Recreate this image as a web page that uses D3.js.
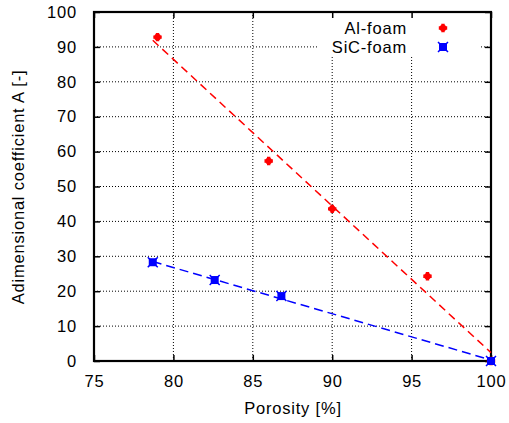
<!DOCTYPE html>
<html><head><meta charset="utf-8">
<script src="https://cdn.jsdelivr.net/npm/d3@7"></script>
<style>body{margin:0;background:#fff}svg{display:block}text{font-family:"Liberation Sans",Arial,sans-serif;fill:#000;letter-spacing:0.8px}</style>
</head><body>
<svg id="c" width="509" height="423"></svg>
<script>
const xTicks = [75, 80, 85, 90, 95, 100];
const yTicks = [0, 10, 20, 30, 40, 50, 60, 70, 80, 90, 100];
const alX = [79.0, 86.0, 90.0, 96.0, 100.0];
const alY = [92.8, 57.3, 43.6, 24.3, 0.0];
const sicX = [78.7, 82.6, 86.8, 100.0];
const sicY = [28.3, 23.2, 18.6, 0.0];
const alFitX = [78.7, 100.0];
const alFitY = [91.9, 2.4];
const sicFitX = [78.7, 100.0];
const sicFitY = [28.5, 0.3];
const seriesNames = ["Al-foam", "SiC-foam"];

const svg = d3.select("#c");
const L = 94, R = 491, T = 12, B = 361;
const x = d3.scaleLinear().domain([75, 100]).range([L, R]);
const y = d3.scaleLinear().domain([0, 100]).range([B, T]);
const fs = 16.5;
const ff = "Liberation Sans, Arial, sans-serif";

// grid
const g = svg.append("g");
g.selectAll(".gx").data(xTicks.slice(1, -1)).join("line")
  .attr("x1", d => x(d)).attr("x2", d => x(d)).attr("y1", T).attr("y2", B)
  .attr("stroke", "#000").attr("stroke-width", 1).attr("stroke-dasharray", "1,2");
g.selectAll(".gy").data(yTicks.slice(1, -1)).join("line")
  .attr("x1", L).attr("x2", R).attr("y1", d => y(d)).attr("y2", d => y(d))
  .attr("stroke", "#000").attr("stroke-width", 1).attr("stroke-dasharray", "1,2");

// legend background
svg.append("rect").attr("x", 318).attr("y", T).attr("width", 162).attr("height", 43).attr("fill", "#fff");

// axes with d3 (ticks inward)
const ax = svg.append("g");
ax.append("g").attr("transform", `translate(0,${B})`)
  .call(d3.axisBottom(x).tickValues(xTicks).tickSize(-6).tickPadding(14).tickFormat(d3.format("d")))
  .call(s => { s.select(".domain").remove(); s.selectAll("text").attr("font-size", fs).attr("font-family", ff); });
ax.append("g").attr("transform", `translate(0,${T})`)
  .call(d3.axisTop(x).tickValues(xTicks).tickSize(-6).tickFormat(""))
  .call(s => s.select(".domain").remove());
ax.append("g").attr("transform", `translate(${L},0)`)
  .call(d3.axisLeft(y).tickValues(yTicks).tickSize(-6).tickPadding(17).tickFormat(d3.format("d")))
  .call(s => { s.select(".domain").remove(); s.selectAll("text").attr("font-size", fs).attr("font-family", ff); });
ax.append("g").attr("transform", `translate(${R},0)`)
  .call(d3.axisRight(y).tickValues(yTicks).tickSize(-6).tickFormat(""))
  .call(s => s.select(".domain").remove());
ax.selectAll(".tick line").attr("stroke", "#000").attr("stroke-width", 1.5);

// border
svg.append("rect").attr("x", L).attr("y", T).attr("width", R - L).attr("height", B - T)
  .attr("fill", "none").attr("stroke", "#000").attr("stroke-width", 2.2);

// fit lines
const line = d3.line().x(d => x(d[0])).y(d => y(d[1]));
svg.append("path").datum(d3.zip(alFitX, alFitY)).attr("d", line)
  .attr("fill", "none").attr("stroke", "#f00").attr("stroke-width", 1.5).attr("stroke-dasharray", "8,5");
svg.append("path").datum(d3.zip(sicFitX, sicFitY)).attr("d", line)
  .attr("fill", "none").attr("stroke", "#00f").attr("stroke-width", 1.5).attr("stroke-dasharray", "9,5");

// markers
function redMark(sel) {
  sel.append("path").attr("d", "M-1.7,-4.2h3.4v2.5h2.5v3.4h-2.5v2.5h-3.4v-2.5h-2.5v-3.4h2.5z").attr("fill", "#f00");
  sel.append("circle").attr("r", 3.3).attr("fill", "#f00");
}
function blueMark(sel) {
  sel.append("rect").attr("x", -4).attr("y", -4).attr("width", 8).attr("height", 8).attr("fill", "#00f");
  sel.append("path").attr("d", "M-5,-5L5,5M5,-5L-5,5").attr("stroke", "#00f").attr("stroke-width", 1.5);
}
svg.selectAll(".al").data(d3.zip(alX, alY)).join("g")
  .attr("transform", d => `translate(${x(d[0])},${y(d[1])})`).each(function () { redMark(d3.select(this)); });
svg.selectAll(".sic").data(d3.zip(sicX, sicY)).join("g")
  .attr("transform", d => `translate(${x(d[0])},${y(d[1])})`).each(function () { blueMark(d3.select(this)); });

// legend
const lg = svg.append("g");
lg.append("text").attr("x", 407).attr("y", 34).attr("text-anchor", "end").attr("font-size", fs).text(seriesNames[0]);
lg.append("text").attr("x", 407).attr("y", 53).attr("text-anchor", "end").attr("font-size", fs).text(seriesNames[1]);
lg.append("g").attr("transform", "translate(443,28)").call(redMark);
lg.append("g").attr("transform", "translate(443,47)").call(blueMark);

// axis labels
svg.append("text").attr("x", 293).attr("y", 413.5).attr("text-anchor", "middle").attr("font-size", fs).text("Porosity [%]");
svg.append("text").attr("transform", "translate(24,187) rotate(-90)").attr("text-anchor", "middle").attr("font-size", fs)
  .text("Adimensional coefficient A [-]");
</script>
</body></html>
